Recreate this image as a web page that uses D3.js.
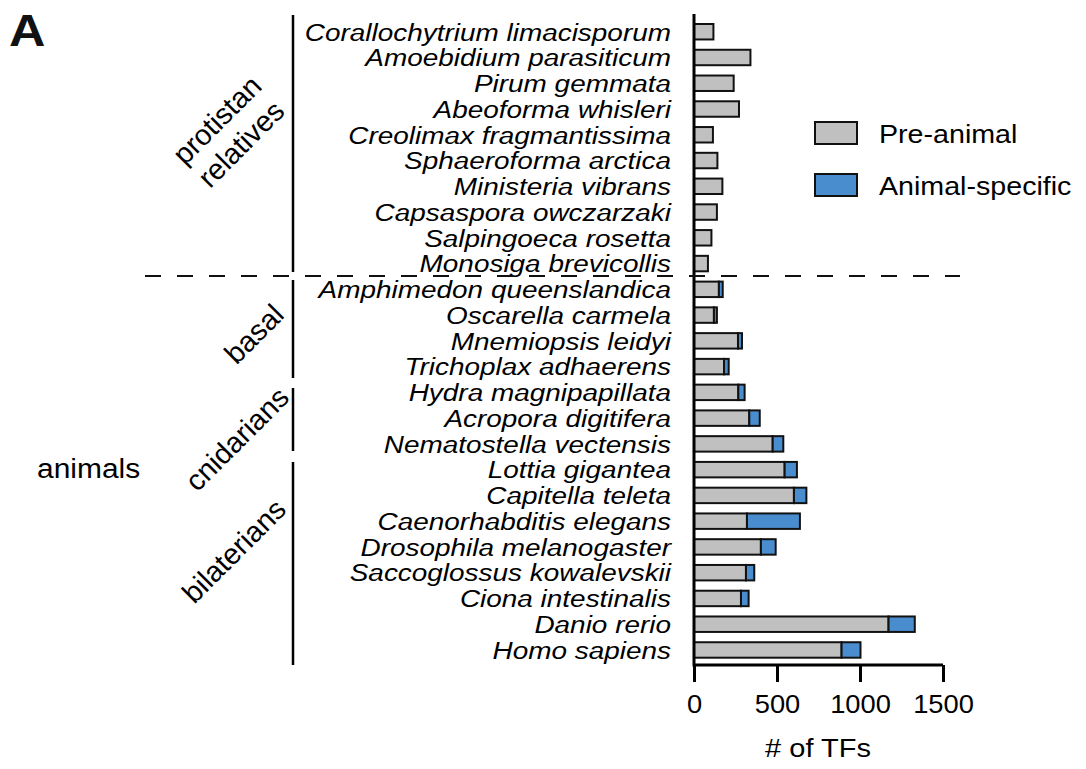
<!DOCTYPE html>
<html>
<head>
<meta charset="utf-8">
<script src="https://cdn.jsdelivr.net/npm/d3@7"></script>
<style>
  body { margin: 0; background: #fff; }
  svg { display: block; font-family: "Liberation Sans", Arial, Helvetica, sans-serif; }
</style>
</head>
<body>
<svg id="chart" width="1086" height="769"></svg>
<script>
const species = [
  "Corallochytrium limacisporum", "Amoebidium parasiticum", "Pirum gemmata",
  "Abeoforma whisleri", "Creolimax fragmantissima", "Sphaeroforma arctica",
  "Ministeria vibrans", "Capsaspora owczarzaki", "Salpingoeca rosetta",
  "Monosiga brevicollis", "Amphimedon queenslandica", "Oscarella carmela",
  "Mnemiopsis leidyi", "Trichoplax adhaerens", "Hydra magnipapillata",
  "Acropora digitifera", "Nematostella vectensis", "Lottia gigantea",
  "Capitella teleta", "Caenorhabditis elegans", "Drosophila melanogaster",
  "Saccoglossus kowalevskii", "Ciona intestinalis", "Danio rerio", "Homo sapiens"
];
const preAnimal = [117, 340, 239, 271, 114, 141, 171, 138, 105, 84,
  150, 120, 265, 181, 267, 333, 474, 546, 602, 319, 403, 313, 283, 1172, 889];
const animalSpecific = [0, 0, 0, 0, 0, 0, 0, 0, 0, 0,
  23, 18, 24, 28, 38, 63, 64, 74, 75, 319, 89, 50, 46, 158, 114];
const xTicks = [0, 500, 1000, 1500];
const seriesNames = ["Pre-animal", "Animal-specific"];
const seriesColors = ["#c0c0c0", "#4a8dcf"];
const groups = [
  { lines: ["protistan", "relatives"], from: "Corallochytrium limacisporum", to: "Monosiga brevicollis" },
  { lines: ["basal"], from: "Amphimedon queenslandica", to: "Trichoplax adhaerens" },
  { lines: ["cnidarians"], from: "Hydra magnipapillata", to: "Nematostella vectensis" },
  { lines: ["bilaterians"], from: "Lottia gigantea", to: "Homo sapiens" }
];

const svg = d3.select("#chart");
const SX = 1.14; // horizontal stretch of the original figure's text

const x = d3.scaleLinear().domain([0, 1500]).range([694, 943]);
const y = d3.scaleBand().domain(species).range([13.7, 668]).paddingInner(0.4).paddingOuter(0.4);
const axisY = 665;

// Bars
const rows = species.map((s, i) => ({ s, pre: preAnimal[i], spec: animalSpecific[i] }));
const g = svg.append("g");
rows.forEach(d => {
  g.append("rect")
    .attr("x", x(0)).attr("y", y(d.s))
    .attr("width", x(d.pre) - x(0)).attr("height", y.bandwidth())
    .attr("fill", seriesColors[0]).attr("stroke", "#111").attr("stroke-width", 2);
  if (d.spec > 0) {
    g.append("rect")
      .attr("x", x(d.pre)).attr("y", y(d.s))
      .attr("width", x(d.pre + d.spec) - x(d.pre)).attr("height", y.bandwidth())
      .attr("fill", seriesColors[1]).attr("stroke", "#111").attr("stroke-width", 2);
  }
});

// Species labels
svg.append("g").selectAll("text").data(species).join("text")
  .attr("transform", d => `translate(671,${y(d) + y.bandwidth() / 2 + 8.8}) scale(${SX},1)`)
  .attr("text-anchor", "end")
  .attr("font-style", "italic")
  .attr("font-size", 24.5)
  .attr("fill", "#000")
  .text(d => d);

// Y axis line
svg.append("line").attr("x1", x(0)).attr("x2", x(0)).attr("y1", 14).attr("y2", axisY + 1.5)
  .attr("stroke", "#000").attr("stroke-width", 3);

// X axis
const xAxis = svg.append("g").attr("transform", `translate(0,${axisY})`)
  .call(d3.axisBottom(x).tickValues(xTicks).tickSize(17).tickPadding(13).tickFormat(d3.format("d")));
xAxis.select(".domain").attr("stroke", "#000").attr("stroke-width", 3)
  .attr("d", `M${x(0)},0H${x(1500)}`);
xAxis.selectAll(".tick line").attr("stroke", "#000").attr("stroke-width", 3);
xAxis.selectAll(".tick text").attr("font-size", 26).attr("fill", "#000")
  .attr("font-family", "Liberation Sans, Arial, sans-serif")
  .attr("transform", `scale(1.05,1)`);

svg.append("text").attr("transform", `translate(818,757) scale(1.095,1)`)
  .attr("text-anchor", "middle").attr("font-size", 26.5).attr("fill", "#000").text("# of TFs");

// Group brackets
const bx = 293;
const brk = [[15, 272], [280, 378], [388, 451], [462, 665]];
groups.forEach((gr, i) => {
  svg.append("line").attr("x1", bx).attr("x2", bx)
    .attr("y1", brk[i][0]).attr("y2", brk[i][1])
    .attr("stroke", "#000").attr("stroke-width", 2.5);
});
const gLabelPos = [[229, 132], [254, 334], [237, 439], [234, 551]];
groups.forEach((gr, i) => {
  const t = svg.append("text")
    .attr("transform", `translate(${gLabelPos[i][0]},${gLabelPos[i][1]}) rotate(-45)`)
    .attr("text-anchor", "middle").attr("font-size", 29).attr("fill", "#000");
  const n = gr.lines.length;
  gr.lines.forEach((ln, j) => {
    t.append("tspan").attr("x", 0).attr("y", (j - (n - 1) / 2) * 34 + 10).text(ln);
  });
});

svg.append("text").attr("transform", `translate(37,478) scale(1.07,1)`)
  .attr("font-size", 28).attr("fill", "#000").text("animals");

// Dashed separator
svg.append("line").attr("x1", 145).attr("x2", 960).attr("y1", 276).attr("y2", 276)
  .attr("stroke", "#111").attr("stroke-width", 2).attr("stroke-dasharray", "16,16");

// Panel letter
svg.append("text").attr("transform", `translate(9,46) scale(1.12,1)`)
  .attr("font-size", 45).attr("font-weight", "bold").attr("fill", "#111").text("A");

// Legend
const legY = [122, 174];
seriesNames.forEach((nm, i) => {
  svg.append("rect").attr("x", 815).attr("y", legY[i]).attr("width", 42).attr("height", 22)
    .attr("fill", seriesColors[i]).attr("stroke", "#111").attr("stroke-width", 2);
  svg.append("text").attr("transform", `translate(879,${legY[i] + 21}) scale(1.08,1)`)
    .attr("font-size", 26.5).attr("fill", "#000").text(nm);
});
</script>
</body>
</html>
